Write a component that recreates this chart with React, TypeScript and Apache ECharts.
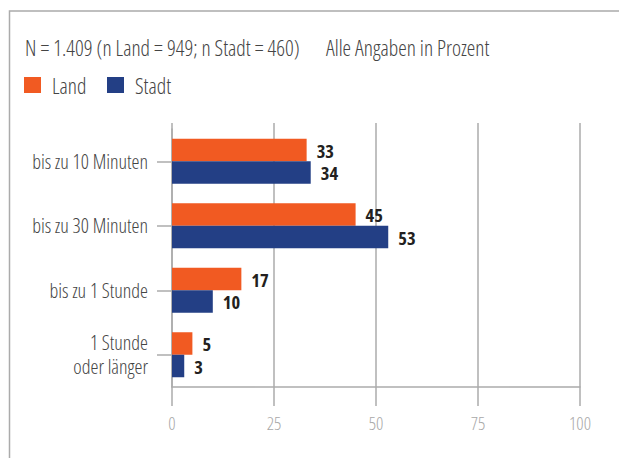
import React, { useEffect, useRef } from "react";
import * as echarts from "echarts";

const categories = ["bis zu 10 Minuten", "bis zu 30 Minuten", "bis zu 1 Stunde", "1 Stunde\noder länger"];
const landValues = [33, 45, 17, 5];
const stadtValues = [34, 53, 10, 3];
const xTicks = [0, 25, 50, 75, 100];
const seriesNames = ["Land", "Stadt"];
const titleLeft = "N = 1.409 (n Land = 949; n Stadt = 460)";
const titleRight = "Alle Angaben in Prozent";

const FONT = "'Open Sans', sans-serif";
const ORANGE = "#F15A22";
const BLUE = "#233F85";
const GREY = "#ababab";
const TEXT = "#444444";

export default function App() {
  const ref = useRef<HTMLDivElement>(null);
  useEffect(() => {
    if (!ref.current) return;
    const chart = echarts.init(ref.current, null, { renderer: "svg" });
    const legendText = { fontSize: 21.5, color: TEXT, fontFamily: FONT, fontWeight: 300, padding: [0, 0, 0, 6] };
    const titleText = { fontSize: 21.5, fontWeight: 300, color: TEXT, fontFamily: FONT };
    chart.setOption({
      animation: false,
      backgroundColor: "#ffffff",
      textStyle: { fontFamily: FONT },
      title: [
        { text: titleLeft, left: 25, top: 36, padding: 0, textStyle: titleText },
        { text: titleRight, left: 326, top: 36, padding: 0, textStyle: titleText },
      ],
      legend: [
        { data: [seriesNames[0]], left: 24, top: 74, padding: 0, itemWidth: 17, itemHeight: 16, icon: "rect", textStyle: legendText },
        { data: [seriesNames[1]], left: 107, top: 74, padding: 0, itemWidth: 17, itemHeight: 16, icon: "rect", textStyle: legendText },
      ],
      graphic: [
        {
          type: "rect",
          shape: { x: 9.5, y: 11, width: 700, height: 600 },
          style: { fill: "none", stroke: GREY, lineWidth: 1.5 },
          silent: true,
        },
      ],
      grid: { left: 172, right: 39, top: 129, bottom: 71, containLabel: false, outerBoundsMode: "none" },
      xAxis: [
        {
          type: "value",
          min: xTicks[0],
          max: xTicks[xTicks.length - 1],
          interval: 25,
          position: "bottom",
          axisLine: { show: true, lineStyle: { color: GREY, width: 1.5 } },
          axisTick: { show: true, length: 19, lineStyle: { color: GREY, width: 1.5 } },
          splitLine: { show: true, lineStyle: { color: GREY, width: 1.5 } },
          axisLabel: { fontSize: 18, color: "#a8a8a8", margin: 27, fontFamily: FONT, fontWeight: 300 },
        },
        {
          type: "value",
          min: xTicks[0],
          max: xTicks[xTicks.length - 1],
          interval: 25,
          position: "top",
          axisLine: { show: false },
          axisTick: { show: true, length: 6, lineStyle: { color: GREY, width: 1.5 } },
          splitLine: { show: false },
          axisLabel: { show: false },
        },
      ],
      yAxis: {
        type: "category",
        data: categories,
        inverse: true,
        axisLine: { show: true, lineStyle: { color: GREY, width: 1.5 } },
        axisTick: { show: true, alignWithLabel: true, length: 15, lineStyle: { color: GREY, width: 1.5 } },
        axisLabel: { fontSize: 20, color: TEXT, margin: 24, lineHeight: 24, fontFamily: FONT, fontWeight: 300 },
      },
      series: [
        {
          name: seriesNames[0],
          type: "bar",
          data: landValues,
          barWidth: 22.5,
          barGap: "0%",
          itemStyle: { color: ORANGE },
          label: { show: true, position: "right", distance: 10, fontSize: 18.5, fontWeight: "bold", color: "#231f20", fontFamily: FONT },
        },
        {
          name: seriesNames[1],
          type: "bar",
          data: stadtValues,
          barWidth: 22.5,
          barGap: "0%",
          itemStyle: { color: BLUE },
          label: { show: true, position: "right", distance: 10, fontSize: 18.5, fontWeight: "bold", color: "#231f20", fontFamily: FONT },
        },
      ],
    });
    return () => chart.dispose();
  }, []);
  return (
    <>
      <style>{`#root svg text { font-stretch: 75% !important; }`}</style>
      <div ref={ref} style={{ position: "fixed", left: 0, top: 0, width: 619, height: 458 }} />
    </>
  );
}
